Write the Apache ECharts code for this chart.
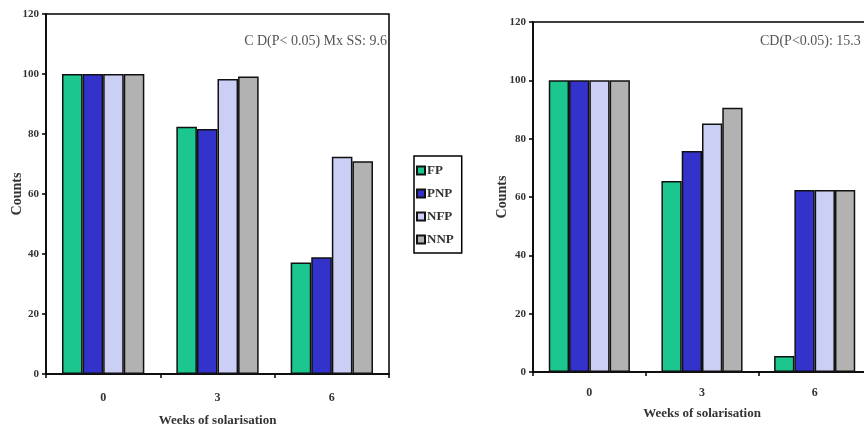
<!DOCTYPE html>
<html>
<head>
<meta charset="utf-8">
<script src="https://cdn.jsdelivr.net/npm/echarts@6/dist/echarts.min.js"></script>
<style>html,body{margin:0;padding:0;background:#fff;overflow:hidden;}#c{width:864px;height:433px;}</style>
</head>
<body>
<div id="c"></div>
<script>
const categories = ['0', '3', '6'];
const seriesNames = ['FP', 'PNP', 'NFP', 'NNP'];
const leftFP  = [100, 82.4, 37.2];
const leftPNP = [100, 81.7, 38.9];
const leftNFP = [100, 98.3, 72.4];
const leftNNP = [100, 99.2, 70.9];
const rightFP  = [100, 65.5, 5.5];
const rightPNP = [100, 75.8, 62.4];
const rightNFP = [100, 85.2, 62.4];
const rightNNP = [100, 90.6, 62.4];
const yMin = 0, yMax = 120, yStep = 20;
const xAxisTitle = 'Weeks of solarisation';
const yAxisTitle = 'Counts';
const leftNote = 'C D(P< 0.05) Mx SS: 9.6';
const rightNote = 'CD(P<0.05): 15.3';

const colors = ['#1cc78f', '#3333cc', '#cccff5', '#b2b2b2'];
const serif = '"Liberation Serif", "DejaVu Serif", serif';

const chart = echarts.init(document.getElementById('c'), null, {renderer: 'canvas'});

function xAx(gi, margin, gap) {
  return {
    type: 'category', gridIndex: gi, data: categories,
    axisLine: {lineStyle: {color: '#000', width: 1.5}},
    axisTick: {show: true, length: 4, lineStyle: {color: '#000', width: 1.5}},
    axisLabel: {color: '#333', fontFamily: serif, fontSize: 12, fontWeight: 'bold', margin: margin},
    name: xAxisTitle, nameLocation: 'middle', nameGap: gap,
    nameTextStyle: {color: '#333', fontFamily: serif, fontSize: 13, fontWeight: 'bold'}
  };
}
function yAx(gi, gap) {
  return {
    type: 'value', gridIndex: gi, min: yMin, max: yMax, interval: yStep,
    axisLine: {show: true, lineStyle: {color: '#000', width: 1.5}},
    axisTick: {show: true, length: 4, lineStyle: {color: '#000', width: 1.5}},
    splitLine: {show: false},
    axisLabel: {color: '#333', fontFamily: serif, fontSize: 11, fontWeight: 'bold', margin: 7},
    name: yAxisTitle, nameLocation: 'middle', nameGap: gap, nameRotate: 90, nameMoveOverlap: false,
    nameTextStyle: {color: '#333', fontFamily: serif, fontSize: 14, fontWeight: 'bold'}
  };
}
function bars(gi, arrs) {
  return arrs.map((d, i) => ({
    type: 'bar', name: seriesNames[i], xAxisIndex: gi, yAxisIndex: gi, data: d,
    barGap: '0%', barCategoryGap: '28%',
    itemStyle: {color: colors[i], borderColor: '#111', borderWidth: 1.5},
    emphasis: {disabled: true}
  }));
}

chart.setOption({
  animation: false,
  backgroundColor: '#fff',
  grid: [
    {left: 46, top: 14, width: 343, height: 360, outerBoundsMode: 'none', containLabel: false, show: true, borderColor: '#000', borderWidth: 1.5, backgroundColor: 'transparent'},
    {left: 533, top: 22, width: 338, height: 350, outerBoundsMode: 'none', containLabel: false, show: true, borderColor: '#000', borderWidth: 1.5, backgroundColor: 'transparent'}
  ],
  xAxis: [xAx(0, 18, 40), xAx(1, 15, 35)],
  yAxis: [yAx(0, 22), yAx(1, 24)],
  legend: {
    orient: 'vertical', left: 414, top: 156, data: seriesNames,
    icon: 'rect', itemWidth: 8, itemHeight: 8, itemGap: 10,
    padding: [8, 8, 7, 2], borderColor: '#000', borderWidth: 1.5,
    textStyle: {color: '#333', fontFamily: serif, fontSize: 13, fontWeight: 'bold', padding: [0, 0, 0, -3]}
  },
  graphic: [
    {type: 'text', right: 864 - 387, top: 34, style: {text: leftNote, fill: '#555', font: '14px ' + serif}},
    {type: 'text', left: 760, top: 34, style: {text: rightNote, fill: '#555', font: '14px ' + serif}}
  ],
  series: bars(0, [leftFP, leftPNP, leftNFP, leftNNP]).concat(bars(1, [rightFP, rightPNP, rightNFP, rightNNP]))
});
</script>
</body>
</html>
